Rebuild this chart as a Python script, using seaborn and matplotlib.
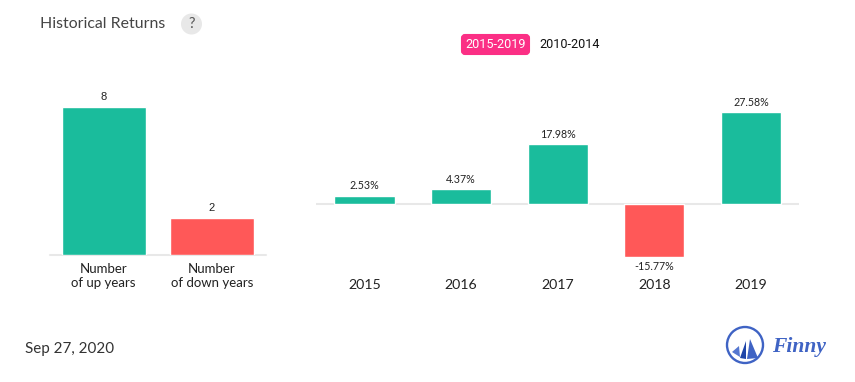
import matplotlib
matplotlib.use("Agg")
import matplotlib.pyplot as plt
import seaborn as sns
from matplotlib.patches import Circle, FancyBboxPatch, Polygon

W, H = 855, 382
GREEN = "#1abc9c"
RED = "#ff5858"
LINE = "#e8e8e8"
BLUE = "#3f63c4"

# datos
count_labels = ["Number\nof up years", "Number\nof down years"]
count_values = [8, 2]
count_kind = ["up", "down"]

years = ["2015", "2016", "2017", "2018", "2019"]
returns = [2.53, 4.37, 17.98, -15.77, 27.58]
return_kind = ["up", "up", "up", "down", "up"]

colors = {"up": GREEN, "down": RED}

sns.set_theme(style="white")
plt.rcParams["font.family"] = ["Lato", "DejaVu Sans"]


def axes_px(fig, left, top, right, bottom):
    return fig.add_axes([left / W, 1 - bottom / H, (right - left) / W, (bottom - top) / H])


def clean(ax, size, pad):
    sns.despine(ax=ax, left=True, bottom=True)
    ax.set_xlabel("")
    ax.set_ylabel("")
    ax.set_yticks([])
    ax.tick_params(axis="x", length=0, labelsize=size, labelcolor="#222222", pad=pad)


fig = plt.figure(figsize=(W / 100, H / 100), dpi=100)

# barras de la izquierda
ax1 = axes_px(fig, 49.5, 60, 266, 254.6)
sns.barplot(x=count_labels, y=count_values, hue=count_kind, palette=colors,
            width=0.778, dodge=False, legend=False, saturation=1, ax=ax1)
ax1.set_xlim(-0.5, 1.5)
ax1.set_ylim(0, 194.6 / 18.45)
ax1.axhline(0, color=LINE, lw=1.5, zorder=0, clip_on=False)
for c in ax1.containers:
    ax1.bar_label(c, fmt="%d", padding=3.5, fontsize=8, color="#222222",
                  family="Liberation Sans")
clean(ax1, 9.5, 5.8)

# barras de la derecha
ax2 = axes_px(fig, 316.2, 60, 799.2, 272)
sns.barplot(x=years, y=returns, hue=return_kind, palette=colors,
            width=0.625, dodge=False, legend=False, saturation=1,
            edgecolor="white", linewidth=1, ax=ax2)
ax2.set_xlim(-0.5, 4.5)
ax2.set_ylim(-68 / 3.33, 144 / 3.33)
ax2.axhline(0, color=LINE, lw=1.5, zorder=0)
for c in ax2.containers:
    ax2.bar_label(c, fmt=lambda v: f"{v:.2f}%", padding=3, fontsize=7.7, color="#222222")
clean(ax2, 10.2, 5)

# capa de textos y logo, en pixeles
top = fig.add_axes([0, 0, 1, 1], zorder=5)
top.set_xlim(0, W)
top.set_ylim(H, 0)
top.axis("off")
top.patch.set_alpha(0)

top.text(40, 23.5, "Historical Returns", fontsize=11.4, color="#444444", va="center")
top.add_patch(Circle((191.5, 24), 10.5, color="#e8e8e8", lw=0))
top.text(191.5, 24, "?", fontsize=10.5, color="#555555", ha="center", va="center")

top.add_patch(FancyBboxPatch((462, 35), 67, 19, boxstyle="round,pad=0,rounding_size=3",
                             mutation_aspect=1, fc="#fb2f85", ec="#fb2f85", lw=1.5))
top.text(496, 45, "2015-2019", fontsize=9.1, color="white", ha="center", va="center",
         family="Roboto")
top.text(570, 45, "2010-2014", fontsize=9.1, color="#111111", ha="center", va="center",
         family="Roboto")

top.text(25, 348.5, "Sep 27, 2020", fontsize=10.9, color="#333333", va="center")

top.add_patch(Circle((745, 345), 18, fc="none", ec=BLUE, lw=1.7))
sails = [([(732, 352), (739, 346), (740, 357)], "#5577d0"),
         ([(740, 358), (746, 341), (746, 359)], "#1f45a8"),
         ([(750, 339), (747, 359), (758, 358)], BLUE)]
for pts, col in sails:
    top.add_patch(Polygon(pts, closed=True, fc=col, ec="none"))
top.text(772, 347, "Finny", fontsize=15.5, color=BLUE, va="center",
         family="Liberation Serif", style="italic", weight="bold")

fig.savefig("out.png", dpi=100)
